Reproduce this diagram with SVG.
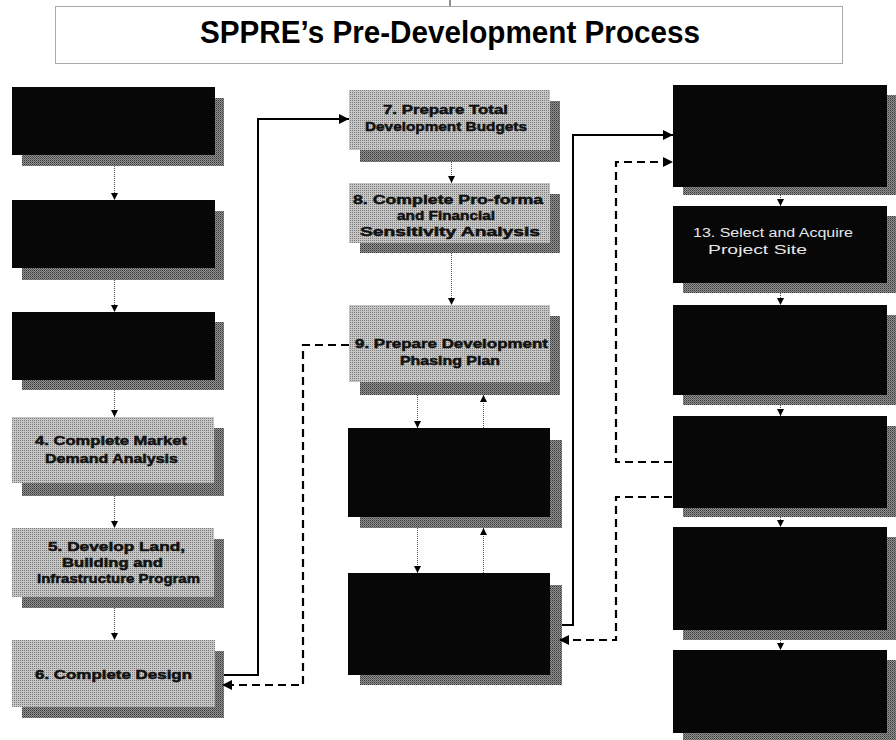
<svg xmlns="http://www.w3.org/2000/svg" width="896" height="740" viewBox="0 0 896 740">
<style>
.title{font-family:"Liberation Sans",Arial,sans-serif;font-weight:bold;font-size:31px;fill:#000}
.gt{font-family:"Liberation Sans",Arial,sans-serif;font-weight:bold;font-size:13px;fill:#111;stroke:#111;stroke-width:0.5}
.wt{font-family:"Liberation Sans",Arial,sans-serif;font-size:12.5px;fill:#e8e8e8}
.gbox{fill:url(#light)}
.bbox{fill:#070707}
.shadow{fill:url(#dark)}
.dot{stroke:#555;stroke-width:1;stroke-dasharray:1 1;fill:none}
.solid{stroke:#000;stroke-width:2;fill:none}
.dash{stroke:#000;stroke-width:2.2;stroke-dasharray:8 5;fill:none}
</style>
<defs>
<pattern id="light" width="2" height="2" patternUnits="userSpaceOnUse">
<rect width="2" height="2" fill="#c6c6c6"/>
<rect width="1" height="1" fill="#7c7c7c"/>
</pattern>
<pattern id="dark" width="2" height="2" patternUnits="userSpaceOnUse">
<rect width="2" height="2" fill="#929292"/>
<rect width="1" height="1" fill="#383838"/>
<rect x="1" y="1" width="1" height="1" fill="#5e5e5e"/>
</pattern>
<marker id="sm" viewBox="0 0 10 10" refX="10" refY="5" markerWidth="8" markerHeight="7" markerUnits="userSpaceOnUse" orient="auto">
<path d="M0,0 L10,5 L0,10 Z" fill="#000"/>
</marker>
<marker id="bm" viewBox="0 0 10 10" refX="10" refY="5" markerWidth="12" markerHeight="10" markerUnits="userSpaceOnUse" orient="auto">
<path d="M0,0 L10,5 L0,10 Z" fill="#000"/>
</marker>
</defs>
<rect width="896" height="740" fill="#fff"/>

<g id="title">
<line x1="450" y1="0" x2="450" y2="6" stroke="#222" stroke-width="1"/>
<rect x="55.5" y="6.5" width="787" height="57" fill="none" stroke="#555" stroke-width="1" stroke-dasharray="1 1"/>
<text class="title" x="200" y="43" textLength="500" lengthAdjust="spacingAndGlyphs">SPPRE’s Pre-Development Process</text>
</g>

<g id="n1"><rect class="shadow" x="22" y="98" width="202" height="68"/><rect class="bbox" x="12" y="87" width="203" height="68"/></g>
<g id="n2"><rect class="shadow" x="22" y="211" width="202" height="69"/><rect class="bbox" x="12" y="200" width="203" height="68"/></g>
<g id="n3"><rect class="shadow" x="22" y="322" width="202" height="68"/><rect class="bbox" x="12" y="312" width="203" height="68"/></g>
<g id="n4"><rect class="shadow" x="22" y="428" width="202" height="68"/><rect class="gbox" x="12" y="417" width="202" height="66"/>
<text class="gt" x="35" y="445" textLength="152" lengthAdjust="spacingAndGlyphs">4. Complete Market</text>
<text class="gt" x="45" y="463" textLength="133" lengthAdjust="spacingAndGlyphs">Demand Analysis</text></g>
<g id="n5"><rect class="shadow" x="22" y="539" width="202" height="69"/><rect class="gbox" x="12" y="528" width="202" height="69"/>
<text class="gt" x="48" y="551" textLength="137" lengthAdjust="spacingAndGlyphs">5. Develop Land,</text>
<text class="gt" x="62" y="567" textLength="101" lengthAdjust="spacingAndGlyphs">Building and</text>
<text class="gt" x="37" y="583" textLength="163" lengthAdjust="spacingAndGlyphs">Infrastructure Program</text></g>
<g id="n6"><rect class="shadow" x="22" y="651" width="202" height="67"/><rect class="gbox" x="12" y="640" width="203" height="67"/>
<text class="gt" x="35" y="679" textLength="157" lengthAdjust="spacingAndGlyphs">6. Complete Design</text></g>

<g id="n7"><rect class="shadow" x="360" y="101" width="200" height="61"/><rect class="gbox" x="349" y="90" width="201" height="60"/>
<text class="gt" x="383" y="114" textLength="125" lengthAdjust="spacingAndGlyphs">7. Prepare Total</text>
<text class="gt" x="365" y="131" textLength="162" lengthAdjust="spacingAndGlyphs">Development Budgets</text></g>
<g id="n8"><rect class="shadow" x="360" y="194" width="200" height="59"/><rect class="gbox" x="349" y="183" width="201" height="60"/>
<text class="gt" x="353" y="204" textLength="190" lengthAdjust="spacingAndGlyphs">8. Complete Pro-forma</text>
<text class="gt" x="397" y="220" textLength="98" lengthAdjust="spacingAndGlyphs">and Financial</text>
<text class="gt" x="360" y="236" textLength="180" lengthAdjust="spacingAndGlyphs">Sensitivity Analysis</text></g>
<g id="n9"><rect class="shadow" x="360" y="316" width="200" height="79"/><rect class="gbox" x="349" y="305" width="201" height="77"/>
<text class="gt" x="355" y="348" textLength="193" lengthAdjust="spacingAndGlyphs">9. Prepare Development</text>
<text class="gt" x="400" y="365" textLength="100" lengthAdjust="spacingAndGlyphs">Phasing Plan</text></g>
<g id="n10"><rect class="shadow" x="360" y="440" width="202" height="88"/><rect class="bbox" x="348" y="428" width="202" height="89"/></g>
<g id="n11"><rect class="shadow" x="360" y="585" width="202" height="100"/><rect class="bbox" x="348" y="573" width="202" height="102"/></g>

<g id="n12"><rect class="shadow" x="683" y="95" width="213" height="100"/><rect class="bbox" x="673" y="85" width="214" height="102"/></g>
<g id="n13"><rect class="shadow" x="683" y="216" width="213" height="77"/><rect class="bbox" x="673" y="206" width="214" height="77"/>
<text class="wt" x="693" y="237" textLength="160" lengthAdjust="spacingAndGlyphs">13.  Select and Acquire</text>
<text class="wt" x="708" y="254" textLength="99" lengthAdjust="spacingAndGlyphs">Project Site</text></g>
<g id="n14"><rect class="shadow" x="683" y="315" width="213" height="90"/><rect class="bbox" x="673" y="305" width="214" height="90"/></g>
<g id="n15"><rect class="shadow" x="683" y="426" width="213" height="91"/><rect class="bbox" x="673" y="416" width="214" height="92"/></g>
<g id="n16"><rect class="shadow" x="683" y="537" width="213" height="103"/><rect class="bbox" x="673" y="527" width="214" height="103"/></g>
<g id="n17"><rect class="shadow" x="683" y="660" width="213" height="80"/><rect class="bbox" x="673" y="650" width="214" height="83"/></g>

<g id="connectors">
<line class="dot" x1="114.5" y1="166" x2="114.5" y2="200" marker-end="url(#sm)"/>
<line class="dot" x1="114.5" y1="280" x2="114.5" y2="312" marker-end="url(#sm)"/>
<line class="dot" x1="114.5" y1="390" x2="114.5" y2="417" marker-end="url(#sm)"/>
<line class="dot" x1="114.5" y1="496" x2="114.5" y2="528" marker-end="url(#sm)"/>
<line class="dot" x1="114.5" y1="608" x2="114.5" y2="640" marker-end="url(#sm)"/>
<line class="dot" x1="451.5" y1="162" x2="451.5" y2="183" marker-end="url(#sm)"/>
<line class="dot" x1="451.5" y1="253" x2="451.5" y2="305" marker-end="url(#sm)"/>
<line class="dot" x1="417.5" y1="395" x2="417.5" y2="428" marker-end="url(#sm)"/>
<line class="dot" x1="417.5" y1="528" x2="417.5" y2="573" marker-end="url(#sm)"/>
<line class="dot" x1="483.5" y1="428" x2="483.5" y2="395" marker-end="url(#sm)"/>
<line class="dot" x1="483.5" y1="573" x2="483.5" y2="528" marker-end="url(#sm)"/>
<line class="dot" x1="780.5" y1="195" x2="780.5" y2="206" marker-end="url(#sm)"/>
<line class="dot" x1="780.5" y1="293" x2="780.5" y2="305" marker-end="url(#sm)"/>
<line class="dot" x1="780.5" y1="405" x2="780.5" y2="416" marker-end="url(#sm)"/>
<line class="dot" x1="780.5" y1="517" x2="780.5" y2="527" marker-end="url(#sm)"/>
<line class="dot" x1="780.5" y1="640" x2="780.5" y2="650" marker-end="url(#sm)"/>

<polyline class="solid" points="224,675 258,675 258,119 349,119" marker-end="url(#bm)"/>
<polyline class="solid" points="562,625 573,625 573,135 673,135" marker-end="url(#bm)"/>

<polyline class="dash" points="349,345 303,345 303,685 222,685" marker-end="url(#bm)"/>
<polyline class="dash" points="672,497 616,497 616,640 559,640" marker-end="url(#bm)"/>
<polyline class="dash" points="672,462 616,462 616,162 673,162" marker-end="url(#bm)"/>
</g>
</svg>
